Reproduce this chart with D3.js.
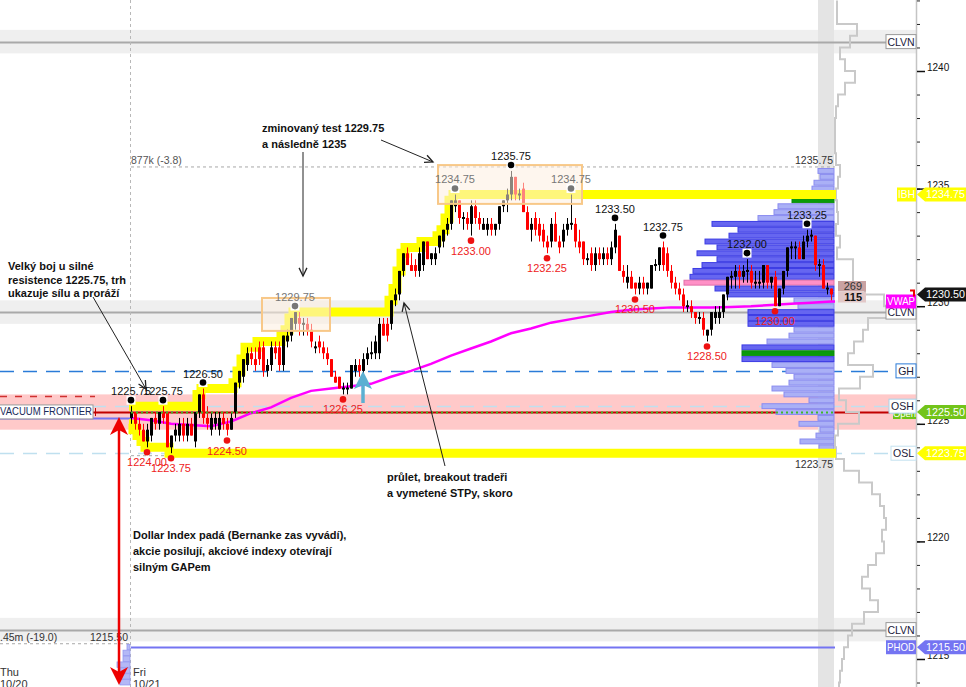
<!DOCTYPE html>
<html><head><meta charset="utf-8">
<script src="https://cdn.jsdelivr.net/npm/d3@7"></script>
<style>
body{margin:0;background:#fff;}
svg{display:block;font-family:"Liberation Sans",Arial,sans-serif;}
</style></head><body>
<svg id="c" width="966" height="687"></svg>
<script>
// ---------- DATA ----------
const barOpen = [1225.25,1225.5,1225,1224.75,1224.25,1224.5,1225.25,1225,1225.5,1225.5,1224,1224.5,1224.5,1225,1224.5,1225,1224.25,1225.5,1226.25,1225.25,1224.75,1225,1224.75,1225.25,1225,1224.75,1225.5,1226.75,1227,1227.5,1228,1227.75,1228.25,1228.25,1227.25,1227.5,1228.25,1228.25,1227.5,1228.5,1228.75,1229.25,1229.5,1229.25,1229.25,1229,1228.25,1228.5,1228.25,1228,1227.75,1227,1227,1226.5,1226.5,1226.5,1227.25,1227.5,1227.25,1227.75,1228,1228,1228,1229.25,1229.25,1229.25,1230.25,1230.5,1231.5,1232.25,1231.75,1231.75,1231.5,1231.75,1232.75,1232,1232,1232.5,1232.75,1233.25,1233.5,1234.25,1234.5,1233.75,1233.75,1233.5,1234.25,1233.75,1233.25,1233.25,1233.5,1233.25,1233.5,1234.25,1234.5,1234.75,1235.5,1234.75,1235,1234,1233.25,1233.75,1233.5,1233.25,1232.75,1232.75,1233.5,1232.75,1232.75,1233.25,1233.5,1233.5,1232.75,1232.75,1232,1232.25,1231.75,1232.25,1232,1232.25,1232,1232.5,1233,1231.5,1231,1231.25,1231,1230.75,1231,1230.75,1230.75,1231.75,1231.75,1232.5,1232.25,1231.5,1231,1230.75,1230.5,1230,1230,1229.75,1229.5,1229.5,1228.75,1229,1229.5,1229.5,1229.75,1230.5,1231.25,1231.25,1231.5,1231.25,1231.5,1231.5,1231,1231,1231,1231.75,1231,1231.25,1230,1230.75,1231.5,1232.5,1232.5,1232.5,1232,1232.75,1233,1233,1231.75,1231.75,1230.75,1230.75];
const barHigh = [1225.75,1225.5,1225.25,1225,1225,1225.25,1225.5,1225.5,1225.75,1225.5,1224.5,1225,1225.25,1225.25,1225.25,1225.25,1225.5,1226.25,1226.5,1225.75,1225.5,1225.5,1225.5,1225.5,1225.25,1225.5,1226.75,1227.25,1227.75,1228.25,1228.25,1228.25,1228.5,1228.5,1227.75,1228.5,1228.5,1228.5,1228.75,1229,1229.5,1229.75,1229.75,1229.5,1229.5,1229.25,1228.5,1228.75,1228.5,1228.25,1227.75,1227.25,1227,1226.75,1226.75,1227.5,1227.75,1227.75,1228,1228.25,1228.5,1228.75,1229.5,1229.5,1229.5,1230.25,1230.75,1231.5,1232.25,1232.5,1232.25,1232,1232.5,1232.75,1232.75,1232.25,1232.5,1233,1233.25,1233.75,1234.5,1234.75,1234.5,1234,1234,1234.5,1234.5,1234,1233.75,1233.75,1233.75,1233.5,1234.25,1234.5,1235,1235.75,1235.5,1235,1235.25,1234.25,1233.75,1234,1233.75,1233.5,1233,1233.75,1234,1233,1233.5,1233.75,1234.75,1233.75,1233.25,1232.75,1232.25,1232.5,1232.5,1232.5,1232.5,1232.5,1232.75,1233.5,1233,1231.75,1231.75,1231.5,1231,1231.25,1231.25,1231,1231.75,1232,1232.5,1232.75,1232.5,1231.75,1231.25,1231,1230.75,1230.25,1230.25,1229.75,1229.75,1229.75,1229,1229.75,1230,1230,1230.5,1231.25,1231.5,1231.75,1231.75,1231.75,1232,1231.75,1231.5,1231.5,1231.75,1231.75,1231.25,1231.5,1230.75,1231.5,1232.5,1232.75,1232.75,1232.75,1233,1233.25,1233.25,1233,1232,1232,1231,1230.75];
const barLow = [1225,1224.75,1224.5,1224.25,1224,1224.25,1224.75,1224.75,1225,1224,1223.75,1224.25,1224.25,1224.25,1224.25,1224.5,1224,1225.25,1225,1224.75,1224.5,1224.75,1224.5,1224.75,1224.5,1224.75,1225.25,1226.5,1226.75,1227.25,1227.5,1227.25,1227.5,1227,1227,1227.25,1227.75,1227.25,1227.25,1228.25,1228.5,1229,1228.75,1228.75,1228.75,1228.25,1228,1228,1227.75,1227.5,1227,1226.75,1226.5,1226.25,1226.25,1226.5,1227,1227,1227,1227.5,1227.75,1227.75,1227.75,1228.75,1228.5,1229,1230,1230.25,1231.25,1231.75,1231.5,1231.25,1231.25,1231.5,1232,1231.75,1231.75,1232.25,1232.5,1233,1233.25,1234,1233.5,1233.25,1233.25,1233,1233.5,1233.25,1233.25,1233,1233,1233,1233.25,1234,1234,1234.5,1234.5,1234.5,1234,1233.25,1232.75,1233,1232.75,1232.5,1232.25,1232.5,1232.75,1232.25,1232.5,1233,1233.25,1232.5,1232.25,1231.75,1231.75,1231.5,1231.5,1231.75,1231.75,1231.75,1231.75,1232.25,1231.5,1231,1230.75,1230.75,1230.5,1230.5,1230.5,1230.5,1230.75,1231.5,1231.5,1231.5,1231.25,1230.75,1230.5,1230.25,1229.75,1229.75,1229.5,1229.25,1229.25,1228.75,1228.5,1228.75,1229.25,1229.25,1229.5,1230.25,1230.75,1230.75,1230.75,1231,1231,1230.75,1230.75,1230.75,1230.75,1230.75,1230.75,1230,1230,1230.5,1231.25,1232,1232,1232,1232,1232.5,1232.75,1231.5,1231.25,1230.75,1230.5,1230.25];
const barClose = [1225.5,1225,1224.75,1224.25,1224.75,1225.25,1225,1225.5,1225.25,1224,1224.5,1224.75,1225,1224.5,1225,1224.5,1225.5,1226.25,1225.25,1225,1225.25,1225.25,1225.25,1225,1224.75,1225.25,1226.75,1227.25,1227.75,1228,1227.75,1227.5,1227.75,1227.25,1227.5,1228.25,1228,1227.5,1228.75,1228.75,1229.5,1229.75,1229.25,1229.25,1229,1228.5,1228.25,1228.25,1228,1227.75,1227,1226.75,1226.5,1226.5,1226.5,1227.5,1227.5,1227.25,1227.75,1228,1228,1228.5,1229.25,1228.75,1228.75,1230.25,1230.5,1231.5,1232.25,1231.75,1231.5,1231.5,1232.25,1232.75,1232,1232.25,1232.25,1233,1233.25,1233.5,1234.5,1234.5,1233.75,1233.75,1233.5,1234.25,1233.75,1233.5,1233.5,1233.5,1233.25,1233.5,1234.25,1234.5,1234.75,1235.5,1234.75,1234.75,1234,1233.25,1233.5,1233.25,1233,1232.75,1232.5,1233.5,1232.75,1232.5,1233.25,1233.5,1233.5,1232.75,1232.5,1232,1232,1231.75,1232.25,1232,1232.25,1232,1232.5,1233.25,1231.5,1231.25,1231.25,1230.75,1230.75,1231,1230.75,1231,1231.75,1231.75,1232.5,1231.75,1231.5,1231,1230.75,1230.5,1230,1230,1229.75,1229.5,1229.5,1229,1229,1229.75,1229.75,1229.75,1230.5,1231.25,1231.25,1231.5,1231.25,1231.5,1231.5,1231,1231,1231,1231.75,1231,1231.25,1230,1230.75,1231.5,1232.5,1232.5,1232.5,1232,1232.75,1233,1233,1231.75,1231.75,1230.75,1230.75,1230.5];

const ibEndBar = 90;

const vwapBars = [0,5,10,15,20,25,30,35,40,45,50,55,60,65,70,75,80,85,90,95,100,105,110,115,120,125,130,135,140,145,150,155,160,165,170,175];
const vwapVals = [1225.25,1225.15,1225.0,1224.95,1224.9,1225.1,1225.45,1225.7,1226.1,1226.4,1226.5,1226.6,1226.7,1227.0,1227.25,1227.55,1227.9,1228.2,1228.5,1228.85,1229.05,1229.3,1229.45,1229.6,1229.75,1229.85,1229.9,1229.95,1229.95,1229.95,1229.97,1230.0,1230.05,1230.1,1230.15,1230.2];

const profileLevels = [1235.75,1235.5,1235.25,1235,1234.75,1234.5,1234.25,1234,1233.75,1233.5,1233.25,1233,1232.75,1232.5,1232.25,1232,1231.75,1231.5,1231.25,1231,1230.75,1230.5,1230.25,1230,1229.75,1229.5,1229.25,1229,1228.75,1228.5,1228.25,1228,1227.75,1227.5,1227.25,1227,1226.75,1226.5,1226.25,1226,1225.75,1225.5,1225.25,1225,1224.75,1224.5,1224.25,1224,1223.75];
const profileVol = [16,14,20,22,22,42,56,60,76,122,96,105,129,117,137,117,132,141,144,150,119,107,40,36,86,86,86,40,45,67,92,92,92,62,48,40,45,62,50,25,72,58,16,35,14,18,34,15,12];
const pocPrice = 1231.0, vahPrice = 1234.5, valPrice = 1228.0;

const compositeLevels = [1243,1242.5,1242,1241.5,1241,1240.5,1240,1239.5,1239,1238.5,1238,1237.5,1237,1236.5,1236,1235.5,1235,1234.5,1234,1233.5,1233,1232.5,1232,1231.5,1231,1230.5,1230,1229.5,1229,1228.5,1228,1227.5,1227,1226.5,1226,1225.5,1225,1224.5,1224,1223.5,1223,1222.5,1222,1221.5,1221,1220.5,1220,1219.5,1219,1218.5,1218,1217.5,1217,1216.5,1216,1215.5,1215,1214.5,1214];
const compositeVol = [3,3,23,16,6,11,21,11,4,2,1,1,1,2,6,4,2,3,4,2,6,3,19,19,31,50,53,34,29,20,14,39,26,5,12,25,4,1,2,10,25,38,46,50,52,48,50,42,34,28,36,44,30,18,14,10,8,6,5];

const prevProfileLevels = [1215.5,1215.25,1215,1214.75,1214.5,1214.25,1214];
const prevProfileVol = [3,7,7,13,10,10,10];

const highBars = [0,8,18,41,81,95,110,121,133,154,169];
const highVals = [1225.75,1225.75,1226.5,1229.75,1234.75,1235.75,1234.75,1233.5,1232.75,1232.0,1233.25];
const lowBars = [4,10,24,53,85,104,126,144,161];
const lowVals = [1224.0,1223.75,1224.5,1226.25,1233.0,1232.25,1230.5,1228.5,1230.0];

const boxFromBar = [33,77], boxToBar = [50,113];
const boxLow = [1228.95,1234.35], boxHigh = [1230.35,1236.0];

const clvnLevels = [1241.25,1229.75,1216.25];
const ghLevel = 1227.25, oshLevel = 1225.75, oslLevel = 1223.75, openLevel = 1225.5;
const ibhLevel = 1234.75, phodLevel = 1215.5, vacuumLevel = 1225.25, lastPrice = 1230.5;
const zoneLow = 1224.75, zoneHigh = 1226.25;
const sessHigh = 1235.75, sessLow = 1223.75, prevLow = 1215.5;
const deltaVals = [269,115];
const axisTicks = [1215,1220,1225,1230,1235,1240];

// ---------- SCALES ----------
const svg = d3.select("#c");
const y = d3.scaleLinear().domain([1215,1240]).range([659,71]);
const x = d3.scaleLinear().domain([0,175]).range([131,831]);
const pw = d3.scaleLinear().domain([0,d3.max(profileVol)]).range([0,150]);
const f2 = d3.format(".2f");
const PR = 834, AX = 916.5;

const bars = barOpen.map((o,i)=>({i,o,h:barHigh[i],l:barLow[i],c:barClose[i]}));

// ---------- BACKGROUND BANDS ----------
clvnLevels.forEach(p=>{
  svg.append("rect").attr("x",0).attr("width",AX).attr("y",y(p+0.5)).attr("height",y(p-0.5)-y(p+0.5)).attr("fill","#efefef");
});
svg.append("rect").attr("x",0).attr("width",AX).attr("y",y(zoneHigh)).attr("height",y(zoneLow)-y(zoneHigh)).attr("fill","#ffc9c9");
svg.append("rect").attr("x",818).attr("width",PR-818).attr("y",0).attr("height",687).attr("fill","#e4e4e4");

// ---------- LEVEL LINES ----------
function hline(p,x1,x2,col,w,dash){
  const l=svg.append("line").attr("x1",x1).attr("x2",x2).attr("y1",Math.round(y(p))+0.5).attr("y2",Math.round(y(p))+0.5)
    .attr("stroke",col).attr("stroke-width",w);
  if(dash) l.attr("stroke-dasharray",dash);
  return l;
}
clvnLevels.forEach(p=>hline(p,0,886,"#a9a9a9",2));
hline(zoneHigh-0.05,0,95,"#d03030",1.5,"7,8");
hline(ghLevel,0,896,"#2a7bd8",1.5,"14,9");
hline(oshLevel,0,889,"#bfe0ef",1.5,"14,9");
hline(oslLevel,0,891,"#bfe0ef",1.5,"14,9");
hline(openLevel,0,890,"#c00000",2);
hline(vacuumLevel,0,131,"#7474f2",2);
hline(phodLevel,131,835,"#7474f2",2);
hline(sessHigh,131,835,"#a8a8a8",1,"3,3").attr("y1",y(sessHigh)-4).attr("y2",y(sessHigh)-4);
hline(sessLow,131,835,"#a8a8a8",1,"3,3").attr("y1",y(sessLow)+2.5).attr("y2",y(sessLow)+2.5);
hline(prevLow,0,131,"#a8a8a8",1,"3,3").attr("y1",y(prevLow)-3.5).attr("y2",y(prevLow)-3.5);
svg.append("line").attr("x1",130.5).attr("x2",130.5).attr("y1",0).attr("y2",687).attr("stroke","#b8b8b8").attr("stroke-dasharray","3,3");

// ---------- VOLUME PROFILE ----------
const rowH = y(0)-y(0.25);
const prof = profileLevels.map((p,k)=>({p,v:profileVol[k]}));
svg.append("g").selectAll("rect").data(prof).join("rect")
  .attr("x",d=>PR-pw(d.v)).attr("width",d=>pw(d.v))
  .attr("y",d=>y(d.p+0.125)+0.5).attr("height",y(0)-y(0.25)-1)
  .attr("fill",d=>d.p===pocPrice?"#ff90c6":(d.p===vahPrice||d.p===valPrice)?"#0a9a0a":(d.v>=80?"#6666f0":"#aab0f6"))
  .attr("stroke",d=>d.p===pocPrice?"#e070a8":(d.p===vahPrice||d.p===valPrice)?"#0a8a0a":(d.v>=80?"#3c3ce4":"#8a8cf0"))
  .attr("stroke-width",1);
svg.append("g").selectAll("rect").data(prevProfileLevels.map((p,k)=>({p,v:prevProfileVol[k]}))).join("rect")
  .attr("x",d=>130-d.v).attr("width",d=>d.v).attr("y",d=>y(d.p+0.125)).attr("height",rowH-0.5)
  .attr("fill","#b4b8f6").attr("stroke","#9498f0").attr("stroke-width",0.8);

// composite outline
{
  let d="";
  compositeLevels.forEach((p,k)=>{
    const xx=PR+compositeVol[k], y1=y(p), y2=y(p-0.5);
    d += (k===0?`M${xx},${y1}`:`L${xx},${y1}`)+`L${xx},${y2}`;
  });
  svg.append("path").attr("d",d).attr("fill","none").attr("stroke","#c9c9c9").attr("stroke-width",2);
}

// ---------- RUNNING IB HIGH / LOW (yellow) ----------
function runLine(acc){
  let cur=null; const pts=[];
  bars.slice(0,ibEndBar+1).forEach(b=>{ const v = acc==="max"?b.h:b.l; cur = cur===null?v:(acc==="max"?Math.max(cur,v):Math.min(cur,v)); pts.push([x(b.i)-2,y(cur)]); });
  pts.push([836,y(cur)]);
  svg.append("path").attr("d",d3.line().curve(d3.curveStepAfter)(pts)).attr("fill","none").attr("stroke","#ffff00").attr("stroke-width",9);
}
runLine("max"); runLine("min");

// ---------- VWAP ----------
svg.append("path").attr("d",d3.line().x((d,k)=>x(vwapBars[k])).y(d=>y(d))(vwapVals)+`L835,${y(vwapVals[vwapVals.length-1])}`)
  .attr("fill","none").attr("stroke","#ff00ff").attr("stroke-width",2.5);

// ---------- CANDLES ----------
const cg = svg.append("g");
cg.selectAll("line").data(bars).join("line")
  .attr("x1",d=>Math.round(x(d.i))+0.5).attr("x2",d=>Math.round(x(d.i))+0.5)
  .attr("y1",d=>y(d.h)).attr("y2",d=>y(d.l))
  .attr("stroke",d=>d.c<d.o?"#ff0000":"#000").attr("stroke-width",1);
cg.selectAll("rect").data(bars).join("rect")
  .attr("x",d=>Math.round(x(d.i))-1).attr("width",3)
  .attr("y",d=>d.o===d.c?y(d.o)-1:y(Math.max(d.o,d.c)))
  .attr("height",d=>d.o===d.c?2:Math.max(1.5,Math.abs(y(d.o)-y(d.c))))
  .attr("fill",d=>d.c<d.o?"#ff0000":"#000");

svg.append("line").attr("x1",131).attr("x2",835).attr("y1",Math.round(y(openLevel))+0.5).attr("y2",Math.round(y(openLevel))+0.5)
  .attr("stroke","#3cb82a").attr("stroke-width",2).attr("stroke-dasharray","2,3");

// ---------- BOXES ----------
boxFromBar.forEach((b,k)=>{
  svg.append("rect").attr("x",x(b)-1).attr("width",x(boxToBar[k])-x(b)).attr("y",y(boxHigh[k])).attr("height",y(boxLow[k])-y(boxHigh[k]))
    .attr("fill","#fdeee0").attr("fill-opacity",0.55).attr("stroke","#f8c888").attr("stroke-width",2);
});
function inBox(i,p){ return boxFromBar.some((b,k)=>i>=b-1&&i<=boxToBar[k]&&p<boxHigh[k]-0.5&&p>boxLow[k]); }

// ---------- SWING LABELS ----------
highBars.forEach((b,k)=>{
  const p=highVals[k], cx=x(b), cy=y(p)-6, gray=inBox(b,p);
  svg.append("rect").attr("x",cx-4.5).attr("y",cy-4.5).attr("width",9).attr("height",9).attr("fill","#fff");
  svg.append("circle").attr("cx",cx).attr("cy",cy).attr("r",3.3).attr("fill",gray?"#777":"#000");
  svg.append("text").attr("x",cx).attr("y",cy-5).attr("text-anchor","middle").attr("font-size",11).attr("fill",gray?"#777":"#111").text(f2(p));
});
lowBars.forEach((b,k)=>{
  const p=lowVals[k], cx=x(b), cy=y(p)+5;
  svg.append("circle").attr("cx",cx).attr("cy",cy).attr("r",3.3).attr("fill","#ee1111");
  svg.append("text").attr("x",cx).attr("y",cy+14).attr("text-anchor","middle").attr("font-size",11).attr("fill","#ee2222").text(f2(p));
});

// ---------- SESSION TEXTS ----------
svg.append("text").attr("x",131).attr("y",y(sessHigh)-7).attr("font-size",10.5).attr("fill","#555").text("877k (-3.8)");
svg.append("text").attr("x",833).attr("y",y(sessHigh)-7).attr("text-anchor","end").attr("font-size",10.5).attr("fill","#333").text(f2(sessHigh));
svg.append("text").attr("x",833).attr("y",y(sessLow)+15).attr("text-anchor","end").attr("font-size",10.5).attr("fill","#333").text(f2(sessLow));
svg.append("text").attr("x",0).attr("y",641).attr("font-size",10.5).attr("fill","#333").text(".45m (-19.0)");
svg.append("text").attr("x",128).attr("y",641).attr("text-anchor","end").attr("font-size",10.5).attr("fill","#333").text(f2(prevLow));
[["Thu",0,676],["10/20",0,688],["Fri",133,676],["10/21",133,688]].forEach(t=>
  svg.append("text").attr("x",t[1]).attr("y",t[2]).attr("font-size",11).attr("fill","#333").text(t[0]));

// VACUUM FRONTIER box
svg.append("rect").attr("x",-2).attr("y",y(vacuumLevel)-13).attr("width",95).attr("height",14).attr("fill","#fff").attr("stroke","#9a9a9a");
svg.append("text").attr("x",46).attr("y",y(vacuumLevel)-2.5).attr("text-anchor","middle").attr("font-size",10.5).attr("textLength",92).attr("lengthAdjust","spacingAndGlyphs").attr("fill","#1a2a5a").text("VACUUM FRONTIER");
svg.append("line").attr("x1",95.5).attr("x2",95.5).attr("y1",y(openLevel)-4).attr("y2",y(openLevel)+4).attr("stroke","#c00000");

// delta boxes
deltaVals.forEach((v,k)=>{
  const yy = 281 + k*11;
  svg.append("rect").attr("x",838).attr("y",yy).attr("width",28).attr("height",10.5).attr("fill",k?"#e2c8c8":"#c9a2a2");
  svg.append("text").attr("x",862).attr("y",yy+9).attr("text-anchor","end").attr("font-size",11).attr("font-weight",k?"bold":"normal").attr("fill",k?"#111":"#333").text(v);
});

// ---------- ANNOTATIONS ----------
function note(lines,x0,y0,dy){
  lines.forEach((t,k)=>svg.append("text").attr("x",x0).attr("y",y0+k*dy).attr("font-size",11).attr("font-weight","bold").attr("fill","#111").text(t));
}
note(["zminovaný test 1229.75","a následně 1235"],262,132,16);
note(["Velký boj u silné","resistence 1225.75, trh","ukazuje sílu a proráží"],8,270,13.5);
note(["průlet, breakout tradeři","a vymetené STPy, skoro"],387,481,16);
note(["Dollar Index padá (Bernanke zas vyvádí),","akcie posilují, akciové indexy otevírají","silným GAPem"],133,539,16);

function arrow(x1,y1,x2,y2){
  const a=Math.atan2(y2-y1,x2-x1), L=9, s=0.45;
  svg.append("line").attr("x1",x1).attr("y1",y1).attr("x2",x2).attr("y2",y2).attr("stroke","#222").attr("stroke-width",1);
  svg.append("path").attr("d",`M${x2-L*Math.cos(a-s)},${y2-L*Math.sin(a-s)}L${x2},${y2}L${x2-L*Math.cos(a+s)},${y2-L*Math.sin(a+s)}`)
    .attr("fill","none").attr("stroke","#222").attr("stroke-width",1.3);
}
arrow(381,140,433,162);
arrow(303,152,303,276);
arrow(93,297,146,389);
arrow(445,466,404,303);

svg.append("line").attr("x1",119).attr("x2",119).attr("y1",428).attr("y2",672).attr("stroke","#ee0000").attr("stroke-width",2.5);
svg.append("path").attr("d","M119,417L110,435L119,430L128,435Z").attr("fill","#ee0000");
svg.append("path").attr("d","M119,685L110,667L119,672L128,667Z").attr("fill","#ee0000");
svg.append("line").attr("x1",363).attr("x2",363).attr("y1",383).attr("y2",403).attr("stroke","#5cb0d2").attr("stroke-width",3.5);
svg.append("path").attr("d","M363,371L354,389L363,385L372,389Z").attr("fill","#5cb0d2");

// ---------- RIGHT AXIS ----------
svg.append("line").attr("x1",AX).attr("x2",AX).attr("y1",0).attr("y2",687).attr("stroke","#c4c4c4").attr("stroke-width",1.5);
const minorAx = svg.append("g").attr("transform",`translate(${AX+0.5},0)`)
  .call(d3.axisRight(y).tickValues(d3.range(1214,1244)).tickSize(3).tickFormat(""));
minorAx.select(".domain").remove();
minorAx.selectAll("line").attr("stroke","#222");
const majorAx = svg.append("g").attr("transform",`translate(${AX+0.5},0)`)
  .call(d3.axisRight(y).tickValues(axisTicks).tickSize(8).tickPadding(2).tickFormat(d3.format("d")));
majorAx.select(".domain").remove();
majorAx.selectAll("line").attr("stroke","#111").attr("stroke-width",1.5);
majorAx.selectAll("text").attr("font-family","Liberation Sans, Arial").attr("font-size",10).attr("fill","#111").attr("dy","-0.05em");

// ---------- LABEL BOXES & TAGS ----------
function lbox(x0,cy,txt,fill,stroke,col){
  svg.append("rect").attr("x",x0).attr("y",cy-7).attr("width",916-x0).attr("height",14).attr("fill",fill).attr("stroke",stroke||"none").attr("stroke-width",1);
  const t=svg.append("text").attr("x",(x0+916)/2).attr("y",cy+4).attr("text-anchor","middle").attr("font-size",10.5).attr("fill",col).text(txt);
  const maxW=916-x0-2;
  if(t.node().getComputedTextLength()>maxW) t.attr("textLength",maxW).attr("lengthAdjust","spacingAndGlyphs");
}
function vtag(cy,txt,fill,col){
  svg.append("path").attr("d",`M917,${cy}L925,${cy-7}L966,${cy-7}L966,${cy+7}L925,${cy+7}Z`).attr("fill",fill);
  svg.append("text").attr("x",926).attr("y",cy+4).attr("font-size",10.5).attr("textLength",39).attr("lengthAdjust","spacingAndGlyphs").attr("fill",col).text(txt);
}
lbox(886,y(clvnLevels[0]),"CLVN","#fff","#9a9a9a","#1a1a3a");
lbox(897,y(ibhLevel),"IBH","#ffff00",null,"#fff");
vtag(y(ibhLevel),f2(ibhLevel),"#ffff00","#fff");
lbox(886,y(clvnLevels[1]),"CLVN","#fff","#9a9a9a","#1a1a3a");
lbox(886,y(vwapVals[vwapVals.length-1]),"VWAP","#ff00ff",null,"#fff");
vtag(y(lastPrice),f2(lastPrice),"#151515","#fff");
svg.append("path").attr("d",`M910,${y(lastPrice)-4}L914,${y(lastPrice)-4}L914,${y(lastPrice)+2}`).attr("fill","none").attr("stroke","#ee0000").attr("stroke-width",2);
lbox(896,y(ghLevel),"GH","#fff","#2a7bd8","#1a1a3a");
svg.append("rect").attr("x",893).attr("y",y(openLevel)-5).attr("width",23).attr("height",12).attr("fill","#6cc414");
svg.append("text").attr("x",904.5).attr("y",y(openLevel)+5).attr("text-anchor","middle").attr("font-size",9.5).attr("fill","#fff").text("Open");
lbox(889,y(oshLevel),"OSH","#fff","#a8d4ea","#1a1a3a");
vtag(y(openLevel),f2(openLevel),"#72c41a","#fff");
lbox(891,y(oslLevel),"OSL","#fff","#c4e2ef","#1a1a3a");
vtag(y(oslLevel),f2(oslLevel),"#ffff00","#fff");
lbox(886,y(clvnLevels[2]),"CLVN","#fff","#9a9a9a","#1a1a3a");
lbox(886,y(phodLevel),"PHOD","#7474f2",null,"#fff");
vtag(y(phodLevel),f2(phodLevel),"#7474f2","#fff");
</script>
</body></html>
